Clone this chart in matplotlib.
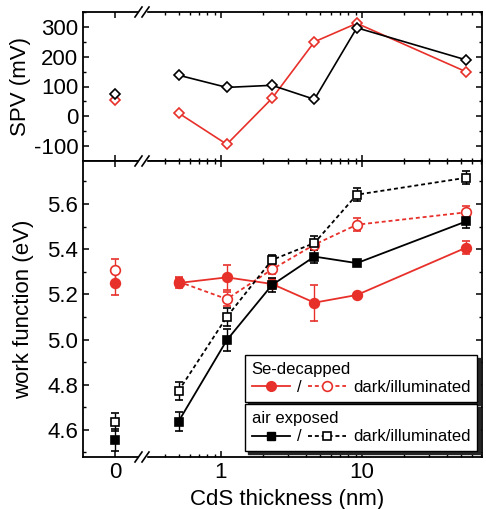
import matplotlib
matplotlib.use('Agg')
import matplotlib.pyplot as plt
from matplotlib.lines import Line2D
from matplotlib.patches import Rectangle
from matplotlib.ticker import FixedLocator, MultipleLocator, NullFormatter

plt.rcParams['font.family'] = ['Liberation Sans', 'DejaVu Sans']
plt.rcParams['axes.unicode_minus'] = False

# CdS thickness (nm); the 0 nm sample sits left of the axis break
thick = [0.5, 1.1, 2.3, 4.6, 9.2, 55]

# SPV (mV)
spvAir0 = 76
spvSe0 = 54
spvAir = [138, 97, 104, 57, 297, 189]
spvSe = [11, -94, 60, 250, 312, 149]

# work function (eV)
seDark0, seDark0Err = 5.249, 0.05
seDark = [5.25, 5.275, 5.246, 5.163, 5.197, 5.407]
seDarkErr = [0.02, 0.055, 0.02, 0.08, 0.01, 0.03]
seIll0, seIll0Err = 5.308, 0.05
seIll = [5.256, 5.179, 5.31, 5.42, 5.508, 5.563]
seIllErr = [0.02, 0.03, 0.02, 0.02, 0.03, 0.03]
airDark0, airDark0Err = 4.556, 0.05
airDark = [4.637, 4.997, 5.241, 5.367, 5.338, 5.523]
airDarkErr = [0.04, 0.05, 0.03, 0.03, 0.01, 0.03]
airIll0, airIll0Err = 4.634, 0.04
airIll = [4.772, 5.10, 5.352, 5.427, 5.641, 5.716]
airIllErr = [0.04, 0.04, 0.02, 0.03, 0.03, 0.03]

red = '#e8302a'
dash = (0, (2.2, 1.6))
W, H = 486, 509


def fx(p):
    return p / W


def fy(p):
    return 1 - p / H


fig = plt.figure(figsize=(W / 100, H / 100), dpi=100)

xL, xB, xR = 83, 143, 482
yT, yM, yBot = 12, 161, 457

axTL = fig.add_axes([fx(xL), fy(yM), (xB - xL) / W, (yM - yT) / H])
axTR = fig.add_axes([fx(xB), fy(yM), (xR - xB) / W, (yM - yT) / H], sharey=axTL)
axBL = fig.add_axes([fx(xL), fy(yBot), (xB - xL) / W, (yBot - yM) / H])
axBR = fig.add_axes([fx(xB), fy(yBot), (xR - xB) / W, (yBot - yM) / H], sharey=axBL)

for ax in (axTL, axBL):
    ax.set_xlim(-1, 0.875)
    ax.xaxis.set_major_locator(FixedLocator([0]))
    ax.spines['right'].set_visible(False)
    ax.tick_params(which='both', direction='in', top=True, right=False)
for ax in (axTR, axBR):
    ax.set_xscale('log')
    ax.set_xlim(0.28, 71)
    ax.xaxis.set_major_locator(FixedLocator([1, 10]))
    ax.xaxis.set_minor_locator(FixedLocator([0.4, 0.5, 0.6, 0.7, 0.8, 0.9,
                                             2, 3, 4, 5, 6, 7, 8, 9,
                                             20, 30, 40, 50, 60, 70]))
    ax.xaxis.set_minor_formatter(NullFormatter())
    ax.spines['left'].set_visible(False)
    ax.tick_params(which='both', direction='in', top=True, left=False,
                   right=True, labelleft=False)
    ax.xaxis.set_major_formatter(matplotlib.ticker.FuncFormatter(lambda v, p: f'{v:g}'))

for ax in (axTL, axTR, axBL, axBR):
    for s in ax.spines.values():
        s.set_linewidth(1.3)
    ax.tick_params(which='major', length=4, width=1.1, labelsize=16)
    ax.tick_params(which='minor', length=2.5, width=1.0)
for ax in (axTL, axTR):
    ax.tick_params(labelbottom=False)

# top panel: SPV
axTL.set_ylim(-150, 350)
axTL.yaxis.set_major_locator(MultipleLocator(100))
axTL.yaxis.set_minor_locator(MultipleLocator(50))
axTL.plot([0], [spvSe0], 'D', color=red, mfc='white', ms=5.5, mew=1.2)
axTL.plot([0], [spvAir0], 'D', color='k', mfc='white', ms=5.5, mew=1.2)
axTR.plot(thick, spvSe, '-D', color=red, mfc='white', ms=5.5, mew=1.2, lw=1.2)
axTR.plot(thick, spvAir, '-D', color='k', mfc='white', ms=5.5, mew=1.2, lw=1.2)
axTL.set_ylabel('SPV (mV)', fontsize=16)
axTL.yaxis.set_label_coords(-0.87, 0.5)

# bottom panel: work function
axBL.set_ylim(4.48, 5.79)
axBL.yaxis.set_major_locator(MultipleLocator(0.2))
axBL.yaxis.set_minor_locator(MultipleLocator(0.1))
axBL.yaxis.set_major_formatter(matplotlib.ticker.FormatStrFormatter('%.1f'))

ebKw = dict(capsize=3, elinewidth=1.0, capthick=1.0, mew=1.2, lw=1.3)
axBL.errorbar([0], [seDark0], yerr=[seDark0Err], fmt='o', color=red, ms=7, **ebKw)
axBL.errorbar([0], [seIll0], yerr=[seIll0Err], fmt='o', color=red, mfc='white', ms=7, **ebKw)
axBL.errorbar([0], [airIll0], yerr=[airIll0Err], fmt='s', color='k', mfc='white', ms=6, **ebKw)
axBL.errorbar([0], [airDark0], yerr=[airDark0Err], fmt='s', color='k', ms=6, **ebKw)

axBR.errorbar(thick, seIll, yerr=seIllErr, fmt='o', ls=dash, color=red, mfc='white', ms=7, **ebKw)
axBR.errorbar(thick, seDark, yerr=seDarkErr, fmt='o-', color=red, ms=7, **ebKw)
axBR.errorbar(thick, airIll, yerr=airIllErr, fmt='s', ls=dash, color='k', mfc='white', ms=6, **ebKw)
axBR.errorbar(thick, airDark, yerr=airDarkErr, fmt='s-', color='k', ms=6, **ebKw)
axBL.set_ylabel('work function (eV)', fontsize=16)
axBL.yaxis.set_label_coords(-0.82, 0.5)

fig.text(fx(287), fy(499), 'CdS thickness (nm)', fontsize=16, ha='center', va='center')

# legends
legKw = dict(ncol=2, loc='lower left', fontsize=12, title_fontsize=12,
             alignment='left', fancybox=False, framealpha=1, edgecolor='k',
             shadow={'color': '0.15', 'alpha': 1}, borderaxespad=0,
             handlelength=2.3, handletextpad=0.4, columnspacing=0.4,
             borderpad=0.4, labelspacing=0.2)
hSe = [Line2D([], [], color=red, marker='o', ms=7, lw=1.3),
       Line2D([], [], color=red, marker='o', mfc='white', ms=7, mew=1.2, lw=1.3, ls=dash)]
hAir = [Line2D([], [], color='k', marker='s', ms=6, lw=1.3),
        Line2D([], [], color='k', marker='s', mfc='white', ms=6, mew=1.2, lw=1.3, ls=dash)]
leg1 = axBR.legend(hSe, ['/', 'dark/illuminated'], title='Se-decapped',
                   bbox_to_anchor=(0.301, 0.186), **legKw)
leg1.get_frame().set_linewidth(1.0)
axBR.add_artist(leg1)
leg2 = axBR.legend(hAir, ['/', 'dark/illuminated'], title='air exposed',
                   bbox_to_anchor=(0.301, 0.02), **legKw)
leg2.get_frame().set_linewidth(1.0)

# axis break marks
for yp in (yT, yM, yBot):
    fig.add_artist(Rectangle((fx(139), fy(yp + 2)), 7 / W, 4 / H, color='white',
                             transform=fig.transFigure, zorder=10))
    for x0 in (135, 142):
        fig.add_artist(Line2D([fx(x0), fx(x0 + 7)], [fy(yp + 5), fy(yp - 5)],
                              color='k', lw=1.2, transform=fig.transFigure, zorder=11))

plt.savefig('out.png', dpi=100)
